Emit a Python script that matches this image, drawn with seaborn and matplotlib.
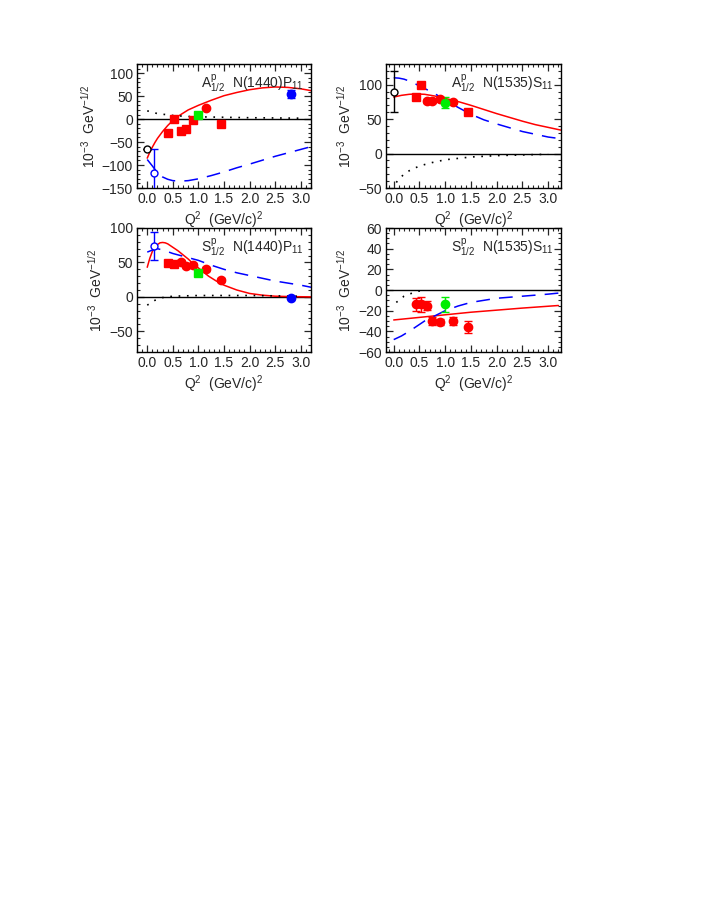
import numpy as np
import pandas as pd
import matplotlib
matplotlib.use('Agg')
import matplotlib.pyplot as plt
import seaborn as sns
from matplotlib.ticker import MultipleLocator

sns.set_theme(style="ticks")
plt.rcParams['font.family'] = ['Liberation Sans', 'DejaVu Sans']
plt.rcParams.update({
    'mathtext.fontset': 'custom',
    'mathtext.rm': 'Liberation Sans',
    'mathtext.it': 'Liberation Sans',
    'mathtext.bf': 'Liberation Sans',
    'xtick.direction': 'in', 'ytick.direction': 'in',
    'xtick.top': True, 'ytick.right': True,
    'axes.linewidth': 1.0,
})

# ---- panel 1: A1/2 N(1440)P11 ----
p1_red_x = [0.0, 0.05, 0.1, 0.15, 0.2, 0.3, 0.4, 0.5, 0.6, 0.7, 0.8, 0.9, 1.0, 1.25, 1.5, 1.75, 2.0, 2.25, 2.5, 2.75, 3.0, 3.2]
p1_red_y = [-85, -72, -61, -51, -42, -27, -14, -3, 6, 13, 20, 25, 30, 41, 51, 58, 64, 68, 70, 69, 66, 62]
p1_blue_x = [0.0, 0.1, 0.2, 0.3, 0.4, 0.5, 0.65, 0.8, 1.0, 1.25, 1.5, 1.75, 2.0, 2.5, 3.0, 3.2]
p1_blue_y = [-88, -102, -117, -126, -131, -134, -135, -134, -130, -123, -115, -106, -98, -81, -66, -60]
p1_dot_x = [0.0, 0.1, 0.2, 0.35, 0.5, 0.75, 1.0, 1.5, 2.0, 2.5, 3.0]
p1_dot_y = [18, 15, 12, 10, 8, 6, 5, 4, 3, 2.5, 2]
p1_sq_x = [0.4, 0.53, 0.65, 0.75, 0.9, 1.45]
p1_sq_y = [-30, 1, -25, -22, -1, -11]
p1_sq_e = [6, 5, 6, 6, 5, 5]
p1_ci_x = [1.15]
p1_ci_y = [24]
p1_ci_e = [3]
p1_green = ([1.0], [10], [4])
p1_blue_pt = ([2.8], [55], [8])
p1_open_black = ([0.0], [-65], [0])
p1_open_blue = ([0.13], [-118], [52])

# ---- panel 2: A1/2 N(1535)S11 ----
p2_red_x = [0.0, 0.15, 0.3, 0.45, 0.6, 0.8, 1.0, 1.25, 1.5, 1.75, 2.0, 2.25, 2.5, 2.75, 3.0, 3.25]
p2_red_y = [82, 84.5, 86, 86.5, 86, 83.5, 80, 75.5, 70, 64, 58, 52.5, 47, 42, 38, 34]
p2_blue_x = [0.0, 0.1, 0.2, 0.35, 0.5, 0.75, 1.0, 1.25, 1.5, 1.75, 2.0, 2.5, 3.0, 3.2]
p2_blue_y = [110, 109.5, 108, 104, 98, 89, 78, 67, 57, 49, 43, 32, 24, 22]
p2_dot_x = [0.05, 0.1, 0.2, 0.3, 0.5, 0.75, 1.0, 1.5, 2.0, 2.5, 3.0]
p2_dot_y = [-42, -37, -30, -25, -18, -13, -9, -5, -3, -2, -1]
p2_sq_x = [0.43, 0.53, 1.45]
p2_sq_y = [82, 100, 61]
p2_sq_e = [4, 4, 4]
p2_ci_x = [0.65, 0.75, 0.9, 1.15]
p2_ci_y = [76, 77, 79, 75]
p2_ci_e = [3, 3, 3, 3]
p2_green = ([1.0], [74], [8])
p2_open_black = ([0.0], [90], [30])

# ---- panel 3: S1/2 N(1440)P11 ----
p3_red_x = [0.0, 0.05, 0.1, 0.15, 0.2, 0.25, 0.3, 0.35, 0.4, 0.5, 0.6, 0.7, 0.8, 0.9, 1.0, 1.1, 1.2, 1.35, 1.5, 1.75, 2.0, 2.25, 2.5, 2.75, 3.2]
p3_red_y = [43, 56, 66, 72, 76, 78.5, 79, 78.5, 77, 72, 67, 61, 55, 48, 42, 36, 30, 23, 17, 10, 5, 2.5, 1, 0.5, 0]
p3_blue_x = [0.0, 0.1, 0.2, 0.35, 0.5, 0.75, 1.0, 1.25, 1.5, 1.75, 2.0, 2.5, 3.0, 3.2]
p3_blue_y = [65, 68, 70, 67, 63, 58, 53, 46, 40, 35, 31, 23, 17, 14]
p3_dot_x = [0.0, 0.15, 0.3, 0.5, 1.0, 2.0, 3.0]
p3_dot_y = [-12, -5, -1, 1, 2, 2, 1]
p3_sq_x = [0.4, 0.53]
p3_sq_y = [49, 48]
p3_sq_e = [4, 4]
p3_ci_x = [0.65, 0.75, 0.9, 1.15, 1.45]
p3_ci_y = [50, 45, 46, 40, 24]
p3_ci_e = [3, 3, 3, 3, 3]
p3_green = ([1.0], [35], [3])
p3_blue_pt = ([2.8], [-1], [2])
p3_open_blue = ([0.13], [74], [20])

# ---- panel 4: S1/2 N(1535)S11 ----
p4_red_x = [0.0, 0.5, 1.0, 1.5, 2.0, 2.5, 3.2]
p4_red_y = [-29, -26.5, -24, -21.5, -19.5, -17.5, -15]
p4_blue_x = [0.0, 0.15, 0.3, 0.45, 0.6, 0.8, 1.0, 1.25, 1.5, 1.75, 2.0, 2.5, 3.0, 3.2]
p4_blue_y = [-48, -44.5, -40, -35, -30, -25, -20, -15.5, -12, -10, -8, -6, -4, -3]
p4_dot_x = [0.05, 0.2, 0.3, 0.45, 0.6]
p4_dot_y = [-12, -6, -4, -1.5, 0]
p4_ci_x = [0.43, 0.53, 0.65, 0.75, 0.9, 1.15, 1.45]
p4_ci_y = [-14, -14, -15, -30, -31, -30, -36]
p4_ci_e = [6, 7, 4, 4, 3, 4, 6]
p4_green = ([1.0], [-14], [7])

RED = '#ff0000'
BLUE = '#0000ff'
GREEN = '#00ee00'

fig = plt.figure(figsize=(7.08, 9.17), dpi=100)
W, H = 708, 917

def make_ax(l, r, t, b):
    return fig.add_axes([l / W, 1 - b / H, (r - l) / W, (b - t) / H])

def curves(ax, rx, ry, bx, by, dx, dy):
    sns.lineplot(x=rx, y=ry, ax=ax, color=RED, lw=1.1, sort=False)
    sns.lineplot(x=bx, y=by, ax=ax, color=BLUE, lw=1.1, sort=False)
    ax.lines[-1].set_dashes([9, 6])
    sns.lineplot(x=dx, y=dy, ax=ax, color='black', lw=1.2, sort=False)
    ax.lines[-1].set_dashes([1, 4])

def pts(ax, x, y, e, color, marker, ms=6, mfc=None):
    ax.errorbar(x, y, yerr=e, fmt=marker, color=color, ms=ms, capsize=3,
                elinewidth=1.0, mfc=mfc if mfc else color, mec=color, zorder=5)

def style(ax, ylim, ymaj, ymin, label):
    ax.axhline(0, color='black', lw=1.0, zorder=1)
    ax.set_xlim(-0.2, 3.2)
    ax.set_ylim(*ylim)
    ax.xaxis.set_major_locator(MultipleLocator(0.5))
    ax.xaxis.set_minor_locator(MultipleLocator(0.1))
    ax.yaxis.set_major_locator(MultipleLocator(ymaj))
    ax.yaxis.set_minor_locator(MultipleLocator(ymin))
    ax.xaxis.set_major_formatter(matplotlib.ticker.FormatStrFormatter('%.1f'))
    ax.yaxis.set_major_formatter(matplotlib.ticker.FuncFormatter(
        lambda v, p: ('\u2212%d' % -v) if v < 0 else '%d' % v))
    ax.tick_params(which='major', length=5, width=0.9, labelsize=10, pad=3)
    ax.tick_params(which='minor', length=2.5, width=0.8)
    ax.set_xlabel(r'Q$^2$  (GeV/c)$^2$', fontsize=10, labelpad=2)
    ax.set_ylabel(r'10$^{-3}$  GeV$^{-1/2}$', fontsize=10, labelpad=3)
    ax.text(0.37, 0.85, label, transform=ax.transAxes, ha='left', va='center', fontsize=10)
    for s in ax.spines.values():
        s.set_color('black')

# panel 1
ax1 = make_ax(137, 311, 64, 188)
curves(ax1, p1_red_x, p1_red_y, p1_blue_x, p1_blue_y, p1_dot_x, p1_dot_y)
pts(ax1, p1_sq_x, p1_sq_y, p1_sq_e, RED, 's')
pts(ax1, p1_ci_x, p1_ci_y, p1_ci_e, RED, 'o')
pts(ax1, *p1_green, GREEN, 's')
pts(ax1, *p1_blue_pt, BLUE, 'o')
pts(ax1, *p1_open_black, 'black', 'o', ms=5, mfc='white')
pts(ax1, *p1_open_blue, BLUE, 'o', ms=5, mfc='white')
style(ax1, (-150, 120), 50, 10, r'A$^{\rm p}_{1/2}$  N(1440)P$_{11}$')

# panel 2
ax2 = make_ax(386, 561, 64, 188)
curves(ax2, p2_red_x, p2_red_y, p2_blue_x, p2_blue_y, p2_dot_x, p2_dot_y)
pts(ax2, p2_sq_x, p2_sq_y, p2_sq_e, RED, 's')
pts(ax2, p2_ci_x, p2_ci_y, p2_ci_e, RED, 'o')
pts(ax2, *p2_green, GREEN, 'o')
pts(ax2, *p2_open_black, 'black', 'o', ms=5, mfc='white')
style(ax2, (-50, 130), 50, 10, r'A$^{\rm p}_{1/2}$  N(1535)S$_{11}$')
ax2.set_xlim(-0.15, 3.25)

# panel 3
ax3 = make_ax(137, 311, 228, 352)
curves(ax3, p3_red_x, p3_red_y, p3_blue_x, p3_blue_y, p3_dot_x, p3_dot_y)
pts(ax3, p3_sq_x, p3_sq_y, p3_sq_e, RED, 's')
pts(ax3, p3_ci_x, p3_ci_y, p3_ci_e, RED, 'o')
pts(ax3, *p3_green, GREEN, 's')
pts(ax3, *p3_blue_pt, BLUE, 'o')
pts(ax3, *p3_open_blue, BLUE, 'o', ms=5, mfc='white')
style(ax3, (-80, 100), 50, 10, r'S$^{\rm p}_{1/2}$  N(1440)P$_{11}$')

# panel 4
ax4 = make_ax(386, 561, 228, 352)
curves(ax4, p4_red_x, p4_red_y, p4_blue_x, p4_blue_y, p4_dot_x, p4_dot_y)
pts(ax4, p4_ci_x, p4_ci_y, p4_ci_e, RED, 'o')
pts(ax4, *p4_green, GREEN, 'o')
style(ax4, (-60, 60), 20, 5, r'S$^{\rm p}_{1/2}$  N(1535)S$_{11}$')
ax4.set_xlim(-0.15, 3.25)

fig.savefig('out.png', dpi=100)
